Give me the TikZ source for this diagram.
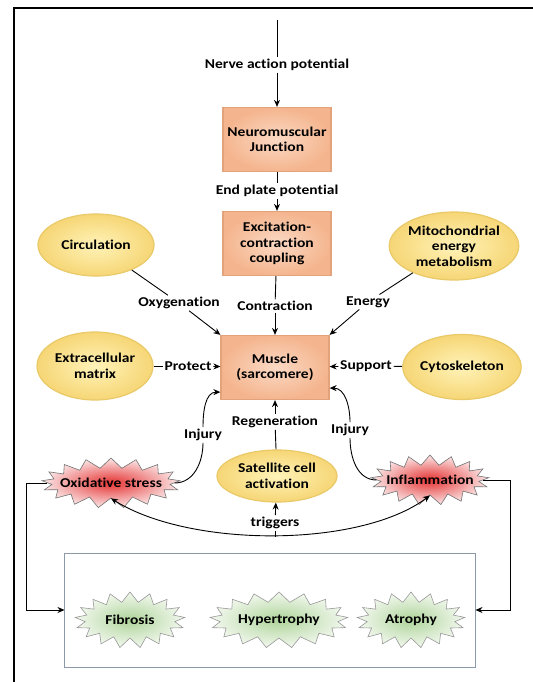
\documentclass[tikz,border=0pt]{standalone}
\usepackage{fontspec}
\setmainfont{Carlito}[FakeStretch=1.15, Ligatures=NoCommon]
\usepackage{tikz}
\usetikzlibrary{shapes.geometric,shapes.symbols,arrows.meta}

\definecolor{boxin}{HTML}{FBD9C4}
\definecolor{boxout}{HTML}{F4B58E}
\definecolor{boxline}{HTML}{E2A27C}
\definecolor{ovalin}{HTML}{FFF3B8}
\definecolor{ovalout}{HTML}{F6D676}
\definecolor{ovalline}{HTML}{E9C968}
\definecolor{redin}{HTML}{E53333}
\definecolor{redout}{HTML}{FBE6E6}
\definecolor{greenin}{HTML}{AED49A}
\definecolor{greenout}{HTML}{F2F8EE}
\definecolor{frameline}{HTML}{8C99A8}

\tikzset{
  box/.style={draw=boxline, line width=1.2bp, inner color=boxin, outer color=boxout,
    minimum width=108bp, minimum height=64bp, align=center},
  oval/.style={ellipse, draw=ovalline, line width=1.2bp, inner color=ovalin, outer color=ovalout,
    minimum width=116bp, minimum height=62bp, inner sep=0pt, align=center},
  burst/.style={starburst, starburst points=17, starburst point height=10bp, random starburst=0,
    draw=black!55, line width=0.6bp, inner sep=1bp, minimum height=50bp, align=center},
  redburst/.style={burst, inner color=redin, outer color=redout, inner xsep=-9bp},
  greenburst/.style={burst, inner color=greenin, outer color=greenout, draw=black!40, minimum height=56bp},
  lbl/.style={inner sep=1.5bp, fill=white}
}

\begin{document}
\begin{tikzpicture}[x=1bp, y=-1bp, font=\bfseries\fontsize{13.5bp}{15.5bp}\selectfont,
    >={Stealth[length=7bp,width=6bp]}, line width=0.9bp]
  \useasboundingbox (0,0) rectangle (533,682);
  \fill[white] (0,0) rectangle (533,682);
  \draw[line width=2.5bp] (533,8) -- (14,8) -- (14,682);

  % main chain
  \coordinate (nerve) at (277,20);
  \node[lbl] (nap) at (277,65) {Nerve action potential};
  \node[box] (nmj) at (277,139.5) {Neuromuscular\\Junction};
  \node[lbl] (epp) at (277,191) {End plate potential};
  \node[box] (ecc) at (277,243.5) {Excitation-\\contraction\\coupling};
  \node[lbl] (con) at (275,306) {Contraction};
  \node[box] (mus) at (275,367.5) {Muscle\\(sarcomere)};

  % supporting factors
  \node[oval] (circ) at (96,245) {Circulation};
  \node[oval, minimum height=68bp] (mito) at (454,246) {Mitochondrial\\energy\\metabolism};
  \node[oval, minimum height=68bp] (ecm) at (95,366) {Extracellular\\matrix};
  \node[oval, minimum height=65bp] (cyto) at (462,367) {Cytoskeleton};
  \node[oval, minimum width=120bp, minimum height=52bp] (sat) at (277,476) {Satellite cell\\activation};

  \node[lbl] (oxy) at (179,303) {Oxygenation};
  \node[lbl] (ene) at (368,302) {Energy};
  \node[lbl] (pro) at (188,366) {Protect};
  \node[lbl] (sup) at (366,366) {Support};
  \node[lbl] (reg) at (275,422) {Regeneration};
  \node[lbl] (injl) at (203,435) {Injury};
  \node[lbl] (injr) at (350,430) {Injury};
  \node[lbl] (trg) at (275,523) {triggers};

  % stress and outcomes
  \node[redburst] (oxs) at (111,483) {Oxidative stress};
  \node[redburst] (inf) at (430,480) {Inflammation};
  \node[draw=frameline, line width=1bp, minimum width=410bp, minimum height=114bp] (outc) at (270,610) {};
  \node[greenburst, minimum width=110bp] (fib) at (130,620) {Fibrosis};
  \node[greenburst, minimum width=130bp] (hyp) at (279,620) {Hypertrophy};
  \node[greenburst, minimum width=108bp] (atr) at (411,620) {Atrophy};

  \draw (nerve) -- (nap);
  \draw[->] (nap) -- (nmj);
  \draw (nmj) -- (epp);
  \draw[->] (epp) -- (ecc);
  \draw (ecc) -- (con);
  \draw[->] (con) -- (mus);
  \draw (circ) -- (oxy);
  \draw[->] (oxy) -- (mus.north west);
  \draw (mito) -- (ene);
  \draw[->] (ene) -- (mus.north east);
  \draw (ecm) -- (pro);
  \draw[->] (pro) -- (mus);
  \draw (cyto) -- (sup);
  \draw[->] (sup) -- (mus);
  \draw (sat) -- (reg);
  \draw[->] (reg) -- (mus);
  \draw (oxs.east) to[out=0, in=-90] (injl.south);
  \draw[->] (injl.north) to[out=90, in=180] ([yshift=8bp]mus.south west);
  \draw (inf.west) to[out=180, in=-90] (injr.south);
  \draw[->] (injr.north) to[out=90, in=0] ([yshift=12bp]mus.south east);
  \coordinate (trgbot) at (275,537);
  \draw[<->] (oxs.south) .. controls (190,548) and (360,548) .. (inf.south);
  \draw (trgbot) -- (trg);
  \draw[->] (trg) -- (sat);
  \draw[->] (oxs.west) -- ++(-21,0) |- (outc.west);
  \draw[->] (inf.east) -- ++(27,0) |- (outc.east);
\end{tikzpicture}
\end{document}
